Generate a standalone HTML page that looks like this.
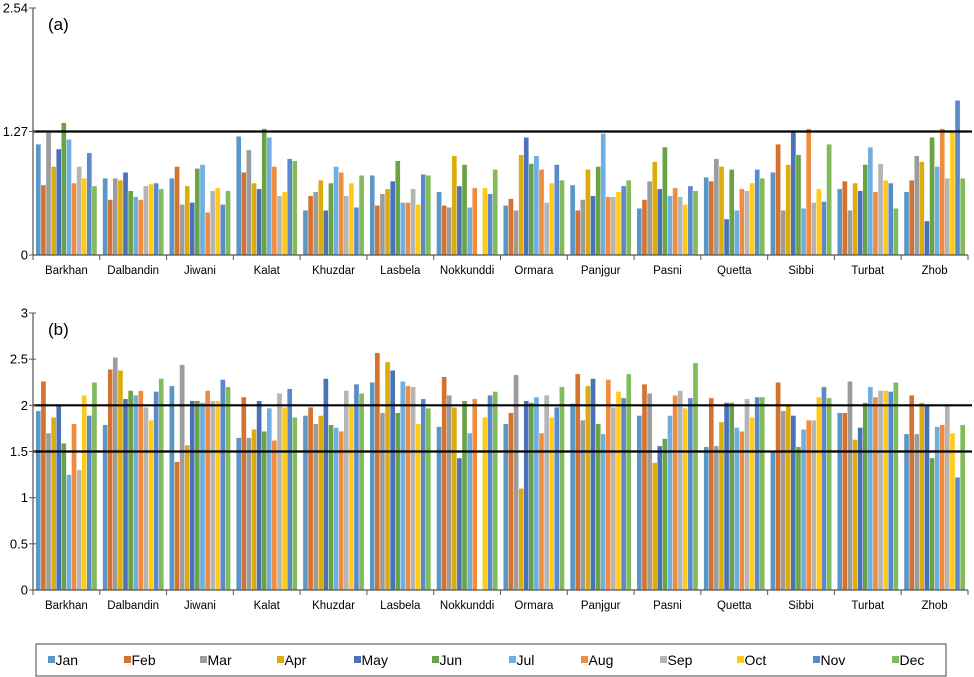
<!DOCTYPE html>
<html><head><meta charset="utf-8"><style>
body{margin:0;background:#fff}
svg{display:block;font-family:"Liberation Sans",Arial,sans-serif}
</style></head><body>
<svg id="c" width="974" height="677" viewBox="0 0 974 677"></svg>
<script>
const stations=["Barkhan","Dalbandin","Jiwani","Kalat","Khuzdar","Lasbela","Nokkunddi","Ormara","Panjgur","Pasni","Quetta","Sibbi","Turbat","Zhob"];
const months=["Jan","Feb","Mar","Apr","May","Jun","Jul","Aug","Sep","Oct","Nov","Dec"];
const colors=["#5b96c8","#d4732f","#9c9c9c","#dcab0e","#4a72b8","#6aa347","#6eaee0","#f08c3e","#b5b5b5","#ffca1a","#5b8acb","#82bb5c"];
const valuesA=[
[1.14,0.72,1.26,0.91,1.09,1.36,1.19,0.74,0.91,0.79,1.05,0.71],
[0.79,0.57,0.79,0.77,0.85,0.66,0.60,0.57,0.71,0.73,0.74,0.68],
[0.79,0.91,0.52,0.71,0.54,0.89,0.93,0.44,0.66,0.69,0.52,0.66],
[1.22,0.85,1.08,0.74,0.68,1.30,1.21,0.91,0.61,0.65,0.99,0.97],
[0.46,0.61,0.65,0.77,0.46,0.74,0.91,0.85,0.61,0.74,0.49,0.82],
[0.82,0.51,0.63,0.68,0.76,0.97,0.54,0.54,0.68,0.52,0.83,0.82],
[0.65,0.51,0.49,1.02,0.71,0.93,0.49,0.69,0,0.69,0.63,0.88],
[0.51,0.58,0.46,1.03,1.21,0.94,1.02,0.88,0.54,0.74,0.93,0.77],
[0.72,0.46,0.57,0.88,0.61,0.91,1.25,0.60,0.60,0.65,0.71,0.77],
[0.48,0.57,0.76,0.96,0.68,1.11,0.61,0.69,0.60,0.52,0.71,0.66],
[0.80,0.76,0.99,0.91,0.37,0.88,0.46,0.68,0.66,0.74,0.88,0.79],
[0.85,1.14,0.46,0.93,1.28,1.03,0.48,1.30,0.54,0.68,0.55,1.14],
[0.68,0.76,0.46,0.74,0.66,0.93,1.11,0.65,0.94,0.77,0.74,0.48],
[0.65,0.77,1.02,0.96,0.35,1.21,0.91,1.30,0.79,1.28,1.59,0.79]];
const valuesB=[
[1.94,2.26,1.70,1.87,2.00,1.59,1.25,1.80,1.30,2.11,1.89,2.25],
[1.79,2.39,2.52,2.38,2.07,2.16,2.11,2.16,1.98,1.84,2.15,2.29],
[2.21,1.39,2.44,1.57,2.05,2.05,2.03,2.16,2.05,2.05,2.28,2.20],
[1.65,2.09,1.65,1.74,2.05,1.72,1.97,1.62,2.13,1.98,2.18,1.87],
[1.89,1.98,1.80,1.89,2.29,1.79,1.76,1.72,2.16,2.00,2.23,2.13],
[2.25,2.57,1.92,2.47,2.38,1.92,2.26,2.21,2.20,1.80,2.07,1.97],
[1.77,2.31,2.11,1.98,1.43,2.05,1.70,2.07,0,1.87,2.11,2.15],
[1.80,1.92,2.33,1.10,2.05,2.03,2.09,1.70,2.11,1.87,1.98,2.20],
[2.02,2.34,1.84,2.21,2.29,1.80,1.69,2.28,1.98,2.15,2.08,2.34],
[1.89,2.23,2.13,1.38,1.56,1.64,1.89,2.11,2.16,1.97,2.08,2.46],
[1.55,2.08,1.56,1.82,2.03,2.03,1.76,1.72,2.07,1.87,2.09,2.09],
[1.51,2.25,1.94,2.00,1.89,1.55,1.74,1.84,1.84,2.09,2.20,2.08],
[1.92,1.92,2.26,1.63,1.76,2.03,2.20,2.09,2.16,2.16,2.15,2.25],
[1.69,2.11,1.69,2.03,2.00,1.43,1.77,1.79,2.00,1.70,1.22,1.79]];
const ticksA=["0","1.27","2.54"];
const ticksAv=[0,1.27,2.54];
const ticksB=["0","0.5","1","1.5","2","2.5","3"];
const ticksBv=[0,0.5,1,1.5,2,2.5,3];
const refA=[1.27];
const refB=[1.5,2];

const NS="http://www.w3.org/2000/svg";
const svg=document.getElementById('c');
function mk(t,a,p){const e=document.createElementNS(NS,t);for(const k in a)e.setAttribute(k,a[k]);(p||svg).appendChild(e);return e;}
const X0=33,X1=968,catW=(X1-X0)/stations.length,barW=5.1;
function xBar(ci,mi){return X0+ci*catW+(catW-12*barW)/2+mi*barW;}

function panel(name,vals,y0,y1,vmax,tv,tl,refs,label){
  const g=mk('g',{});
  
  
  const yS=v=>y0-(v/vmax)*(y0-y1);
  vals.forEach((row,ci)=>row.forEach((v,mi)=>{
    if(v<=0)return;
    const r=mk('rect',{x:xBar(ci,mi),y:yS(v),width:barW,height:y0-yS(v),fill:colors[mi],stroke:'#fff','stroke-width':0.4},g);
    
    
  }));
  refs.forEach(v=>{
    const l=mk('line',{x1:X0,x2:972,y1:yS(v),y2:yS(v),stroke:'#000','stroke-width':2.2},g);
    
    
  });
  const ax=mk('line',{x1:X0,x2:X0,y1:y0,y2:y1,stroke:'#555','stroke-width':1.2},g);
  
  
  const xa=mk('line',{x1:X0,x2:X1,y1:y0,y2:y0,stroke:'#555','stroke-width':1.2},g);
  
  
  tv.forEach((v,i)=>{
    mk('line',{x1:X0-4,x2:X0+3,y1:yS(v),y2:yS(v),stroke:'#555','stroke-width':1},g);
    const t=mk('text',{x:X0-5,y:yS(v)+4.5,'text-anchor':'end','font-size':13,fill:'#000'},g);
    t.textContent=tl[i];
    
    
  });
  for(let i=0;i<=stations.length;i++){
    mk('line',{x1:X0+i*catW,x2:X0+i*catW,y1:y0,y2:y0+5,stroke:'#555','stroke-width':1},g);
  }
  stations.forEach((s,i)=>{
    const t=mk('text',{x:X0+(i+0.5)*catW,y:y0+19,'text-anchor':'middle','font-size':11.5,fill:'#000'},g);
    t.textContent=s;
    
    
  });
  const lt=mk('text',{x:48,y:y1+22,'font-size':17,fill:'#000'},g);
  lt.textContent=label;
  
  
}
panel('panel-a',valuesA,255,8,2.54,ticksAv,ticksA,refA,'(a)');
panel('panel-b',valuesB,590,313,3,ticksBv,ticksB,refB,'(b)');

const lg=mk('g',{});


mk('rect',{x:36,y:644,width:910,height:32,fill:'#fff',stroke:'#444','stroke-width':1},lg);
const lx=[48,124,200,277,354,432,509,581,660,737,813,892];
months.forEach((m,i)=>{
  const e=mk('g',{},lg);
  
  
  mk('rect',{x:lx[i],y:656,width:7,height:7,fill:colors[i]},e);
  const t=mk('text',{x:lx[i]+7.5,y:665,'font-size':14,fill:'#000'},e);
  t.textContent=m;
});
</script>
</body></html>
